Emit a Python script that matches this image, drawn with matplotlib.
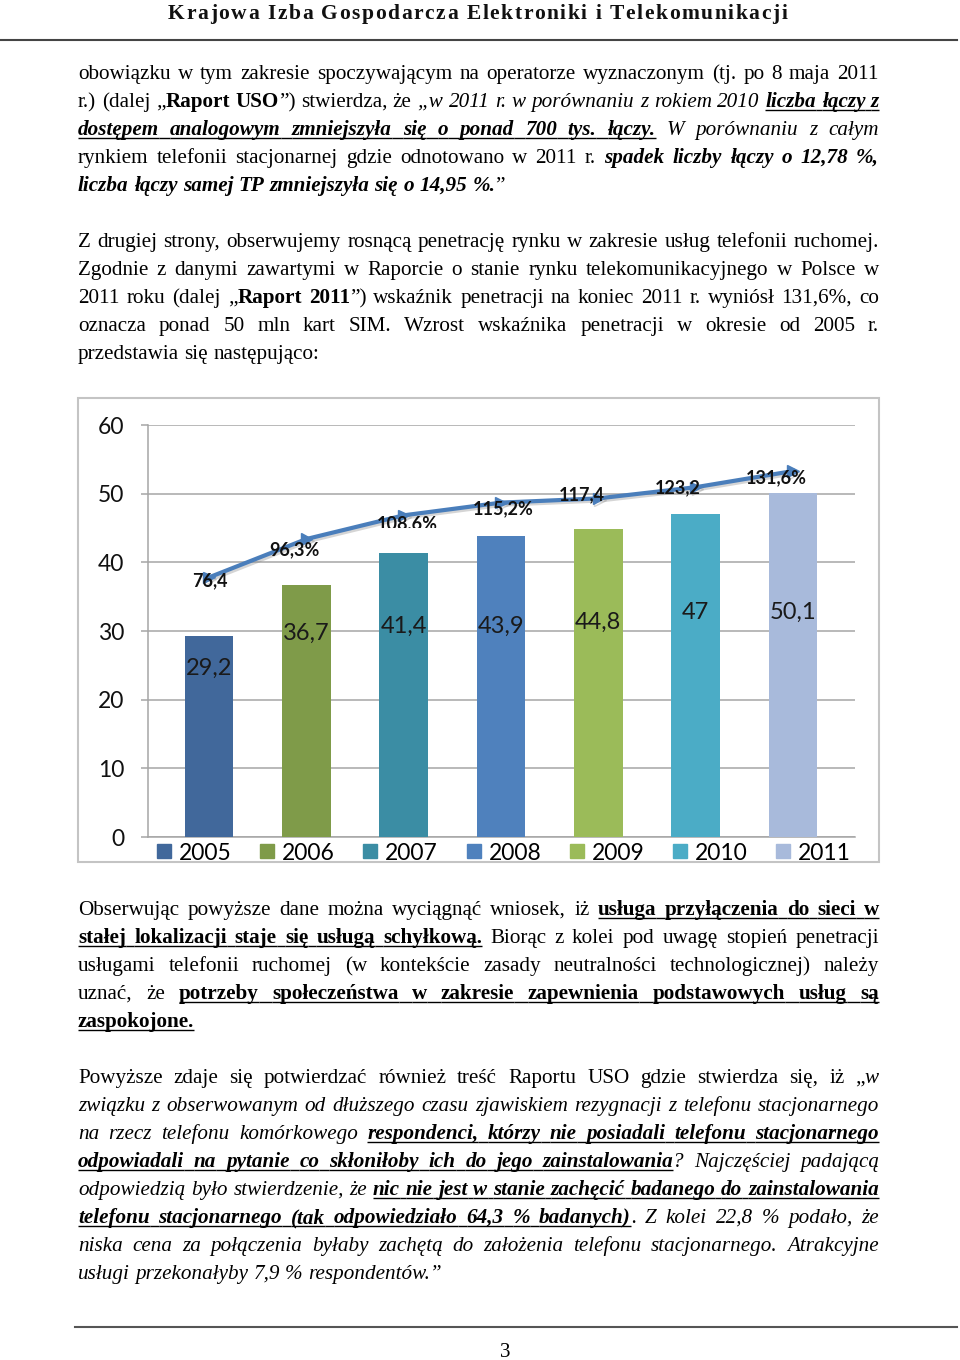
import numpy as np
import matplotlib
matplotlib.use('Agg')
import matplotlib.pyplot as plt
from matplotlib.font_manager import FontProperties
from matplotlib.lines import Line2D
from matplotlib.patches import Rectangle
from matplotlib.transforms import Bbox
import matplotlib.patheffects as pe

# ---------------- chart data ----------------
years = ['2005', '2006', '2007', '2008', '2009', '2010', '2011']
sim_cards = [29.2, 36.7, 41.4, 43.9, 44.8, 47.0, 50.1]
sim_labels = ['29,2', '36,7', '41,4', '43,9', '44,8', '47', '50,1']
penetration = [76.4, 96.3, 108.6, 115.2, 117.4, 123.2, 131.6]
penetration_labels = ['76,4', '96,3%', '108,6%', '115,2%', '117,4', '123,2', '131,6%']
y_ticks = [0, 10, 20, 30, 40, 50, 60]
bar_colors = ['#41689b', '#7f9b49', '#3b8da4', '#4f81bd', '#9bbb59', '#4bacc6', '#a8badb']

# label placement (layout, not data)
sim_label_y = [24.6, 29.7, 30.7, 30.7, 31.3, 32.7, 32.7]
pen_label_dx = [0.01, -0.12, 0.04, 0.02, -0.17, -0.18, -0.17]
pen_label_y = [37.3, 41.8, 45.6, 47.8, 49.9, 50.8, 52.3]

# ---------------- page text ----------------
header = 'Krajowa Izba Gospodarcza Elektroniki i Telekomunikacji'
page_number = '3'

para1 = [
    ([('obowiązku w tym zakresie spoczywającym na operatorze wyznaczonym (tj. po 8 maja 2011', 'r')], True),
    ([('r.) (dalej „', 'r'), ('Raport USO', 'b'), ('”) stwierdza, że ', 'r'),
      ('„w 2011 r. w porównaniu z rokiem 2010 ', 'i'), ('liczba łączy z', 'biu')], True),
    ([('dostępem analogowym zmniejszyła się o ponad 700 tys. łączy.', 'biu'),
      (' W porównaniu z całym', 'i')], True),
    ([('rynkiem telefonii stacjonarnej gdzie odnotowano w 2011 r. ', 'r'),
      ('spadek liczby łączy o 12,78 %,', 'bi')], True),
    ([('liczba łączy samej TP zmniejszyła się o 14,95 %.', 'bi'), ('”', 'r')], False),
]
para2 = [
    ([('Z drugiej strony, obserwujemy rosnącą penetrację rynku w zakresie usług telefonii ruchomej.', 'r')], True),
    ([('Zgodnie z danymi zawartymi w Raporcie o stanie rynku telekomunikacyjnego w Polsce w', 'r')], True),
    ([('2011 roku (dalej „', 'r'), ('Raport 2011', 'b'),
      ('”) wskaźnik penetracji na koniec 2011 r. wyniósł 131,6%, co', 'r')], True),
    ([('oznacza ponad 50 mln kart SIM. Wzrost wskaźnika penetracji w okresie od 2005 r.', 'r')], True),
    ([('przedstawia się następująco:', 'r')], False),
]
para3 = [
    ([('Obserwując powyższe dane można wyciągnąć wniosek, iż ', 'r'),
      ('usługa przyłączenia do sieci w', 'bu')], True),
    ([('stałej lokalizacji staje się usługą schyłkową.', 'bu'),
      (' Biorąc z kolei pod uwagę stopień penetracji', 'r')], True),
    ([('usługami telefonii ruchomej (w kontekście zasady neutralności technologicznej) należy', 'r')], True),
    ([('uznać, że ', 'r'), ('potrzeby społeczeństwa w zakresie zapewnienia podstawowych usług są', 'bu')], True),
    ([('zaspokojone.', 'bu')], False),
]
para4 = [
    ([('Powyższe zdaje się potwierdzać również treść Raportu USO gdzie stwierdza się, iż „', 'r'), ('w', 'i')], True),
    ([('związku z obserwowanym od dłuższego czasu zjawiskiem rezygnacji z telefonu stacjonarnego', 'i')], True),
    ([('na rzecz telefonu komórkowego ', 'i'), ('respondenci, którzy nie posiadali telefonu stacjonarnego', 'biu')], True),
    ([('odpowiadali na pytanie co skłoniłoby ich do jego zainstalowania', 'biu'),
      ('? Najczęściej padającą', 'i')], True),
    ([('odpowiedzią było stwierdzenie, że ', 'i'),
      ('nic nie jest w stanie zachęcić badanego do zainstalowania', 'biu')], True),
    ([('telefonu stacjonarnego (tak odpowiedziało 64,3 % badanych)', 'biu'),
      ('. Z kolei 22,8 % podało, że', 'i')], True),
    ([('niska cena za połączenia byłaby zachętą do założenia telefonu stacjonarnego. Atrakcyjne', 'i')], True),
    ([('usługi przekonałyby 7,9 % respondentów.”', 'i')], False),
]

W, H = 960, 1360
fig = plt.figure(figsize=(W / 100, H / 100), dpi=100)
page = fig.add_axes([0, 0, 1, 1])
page.set_xlim(0, W)
page.set_ylim(H, 0)
page.axis('off')
renderer = fig.canvas.get_renderer()

SERIF = 'Liberation Serif'


def fp(style, px):
    return FontProperties(family=SERIF,
                          weight='bold' if 'b' in style else 'normal',
                          style='italic' if 'i' in style else 'normal',
                          size=px * 0.72)


def width(s, style, px):
    w, h, d = renderer.get_text_width_height_descent(s, fp(style, px), ismath=False)
    return w


def tokenize(runs):
    words = [[]]
    for text, st in runs:
        parts = text.split(' ')
        for k, p in enumerate(parts):
            if k > 0 and words[-1]:
                words.append([])
            if p:
                words[-1].append((p, st))
    if not words[-1]:
        words.pop()
    return words


X0, X1 = 78, 879


def natural(runs, px):
    words = tokenize(runs)
    ws = [sum(width(p, st, px) for p, st in w) for w in words]
    return ws, words


# choose body font size from an unjustified reference line (240 px wide)
ws100, wd = natural(para2[4][0], 100)
FS = 100 * 240 / (sum(ws100) + 0.25 * 100 * (len(ws100) - 1))
for para in (para1, para2, para3, para4):
    for runs, just in para:
        ws, wd = natural(runs, 100)
        fit = 100 * (X1 - X0) / (sum(ws) + 0.18 * 100 * (len(ws) - 1))
        FS = min(FS, fit)


def draw_line(runs, y, justify, px=FS):
    ws, words = natural(runs, px)
    n = len(words) - 1
    if justify and n > 0:
        gap = (X1 - X0 - sum(ws)) / n
    else:
        gap = 0.25 * px
    x = X0
    for i, w in enumerate(words):
        xx = x
        for p, st in w:
            page.text(xx, y, p, fontproperties=fp(st, px), ha='left', va='baseline', color='black')
            pw = width(p, st, px)
            if 'u' in st:
                page.plot([xx, xx + pw], [y + 2.6, y + 2.6], color='black', lw=1.0,
                          solid_capstyle='butt')
            xx += pw
        if i < n and 'u' in w[-1][1] and 'u' in words[i + 1][0][1]:
            page.plot([x + ws[i], x + ws[i] + gap], [y + 2.6, y + 2.6], color='black', lw=1.0,
                      solid_capstyle='butt')
        x += ws[i] + gap


LS = 28
for para, y0 in ((para1, 79), (para2, 247), (para3, 915), (para4, 1083)):
    for k, (runs, just) in enumerate(para):
        draw_line(runs, y0 + k * LS, just)

# header with letter spacing
hpx = 21.5
hx0, hx1 = 168, 787
chars = list(header)
cw = [0.25 * hpx if c == ' ' else width(c, 'b', hpx) for c in chars]
track = (hx1 - hx0 - sum(cw)) / (len(chars) - 1)
x = hx0
for c, w_ in zip(chars, cw):
    if c != ' ':
        page.text(x, 19, c, fontproperties=fp('b', hpx), ha='left', va='baseline', color='#111111')
    x += w_ + track
page.plot([0, 957], [40, 40], color='#444444', lw=1.5)

# footer
page.plot([75, 957], [1327, 1327], color='#555555', lw=1.5)
page.text(505, 1357, page_number, fontproperties=fp('r', FS), ha='center', va='baseline')

# chart frame
page.add_patch(Rectangle((78, 398), 801, 464, facecolor='white', edgecolor='#c4c4c4', lw=1.5))

# ---------------- chart ----------------
SANS = 'Lato'
axL, axR, axT, axB = 148, 855, 425, 837
ax = fig.add_axes([axL / W, 1 - axB / H, (axR - axL) / W, (axB - axT) / H])
ax.set_facecolor('none')
xpos = np.arange(len(years))
ax.bar(xpos, sim_cards, width=0.5, color=bar_colors, zorder=3)
ax.set_xlim(-0.627, 6.637)
ax.set_ylim(0, 60)
ax.set_yticks(y_ticks)
ax.set_yticklabels([str(v) for v in y_ticks], fontfamily=SANS, fontsize=16.5, color='#111111')
ax.set_xticks([])
ax.yaxis.grid(True, color='#a6a6a6', lw=1.1, zorder=0)
ax.set_axisbelow(True)
for s in ('top', 'right'):
    ax.spines[s].set_visible(False)
for s in ('left', 'bottom'):
    ax.spines[s].set_color('#a6a6a6')
    ax.spines[s].set_linewidth(1.1)
ax.tick_params(axis='y', length=5, width=1.1, color='#a6a6a6', pad=12)

for i, lab in enumerate(sim_labels):
    ax.text(xpos[i], sim_label_y[i], lab, ha='center', va='center', fontfamily=SANS,
            fontsize=17, color='#1a1a1a', zorder=6)

ax2 = ax.twinx()
ax2.set_ylim(-58.4, 155.5)
ax2.axis('off')
ax2.plot(xpos, penetration, color='#4a7ebb', lw=3.0, marker='>', ms=8, zorder=5,
         path_effects=[pe.SimpleLineShadow(offset=(1.2, -1.5), shadow_color='#888888', alpha=0.35),
                       pe.Normal()])

clip = Bbox.from_extents(0, H - 528, W, H)
for i, lab in enumerate(penetration_labels):
    t = ax2.text(xpos[i] + pen_label_dx[i], pen_label_y[i], lab, transform=ax.transData,
                 ha='center', va='center', fontfamily=SANS, fontweight='bold', fontsize=13,
                 color='#111111', zorder=7)
    if lab.startswith('108'):
        t.set_clip_on(True)
        t.set_clip_box(clip)

handles = [Line2D([], [], marker='s', ls='', color=c, markersize=9.5) for c in bar_colors]
fig.legend(handles, years, ncol=7, loc='center', bbox_to_anchor=(504 / W, 1 - 853 / H),
           frameon=False, prop=FontProperties(family=SANS, size=16.5), handlelength=0.6,
           handletextpad=0.35, columnspacing=1.25, borderpad=0, borderaxespad=0)

fig.savefig('out.png', dpi=100, facecolor='white')
